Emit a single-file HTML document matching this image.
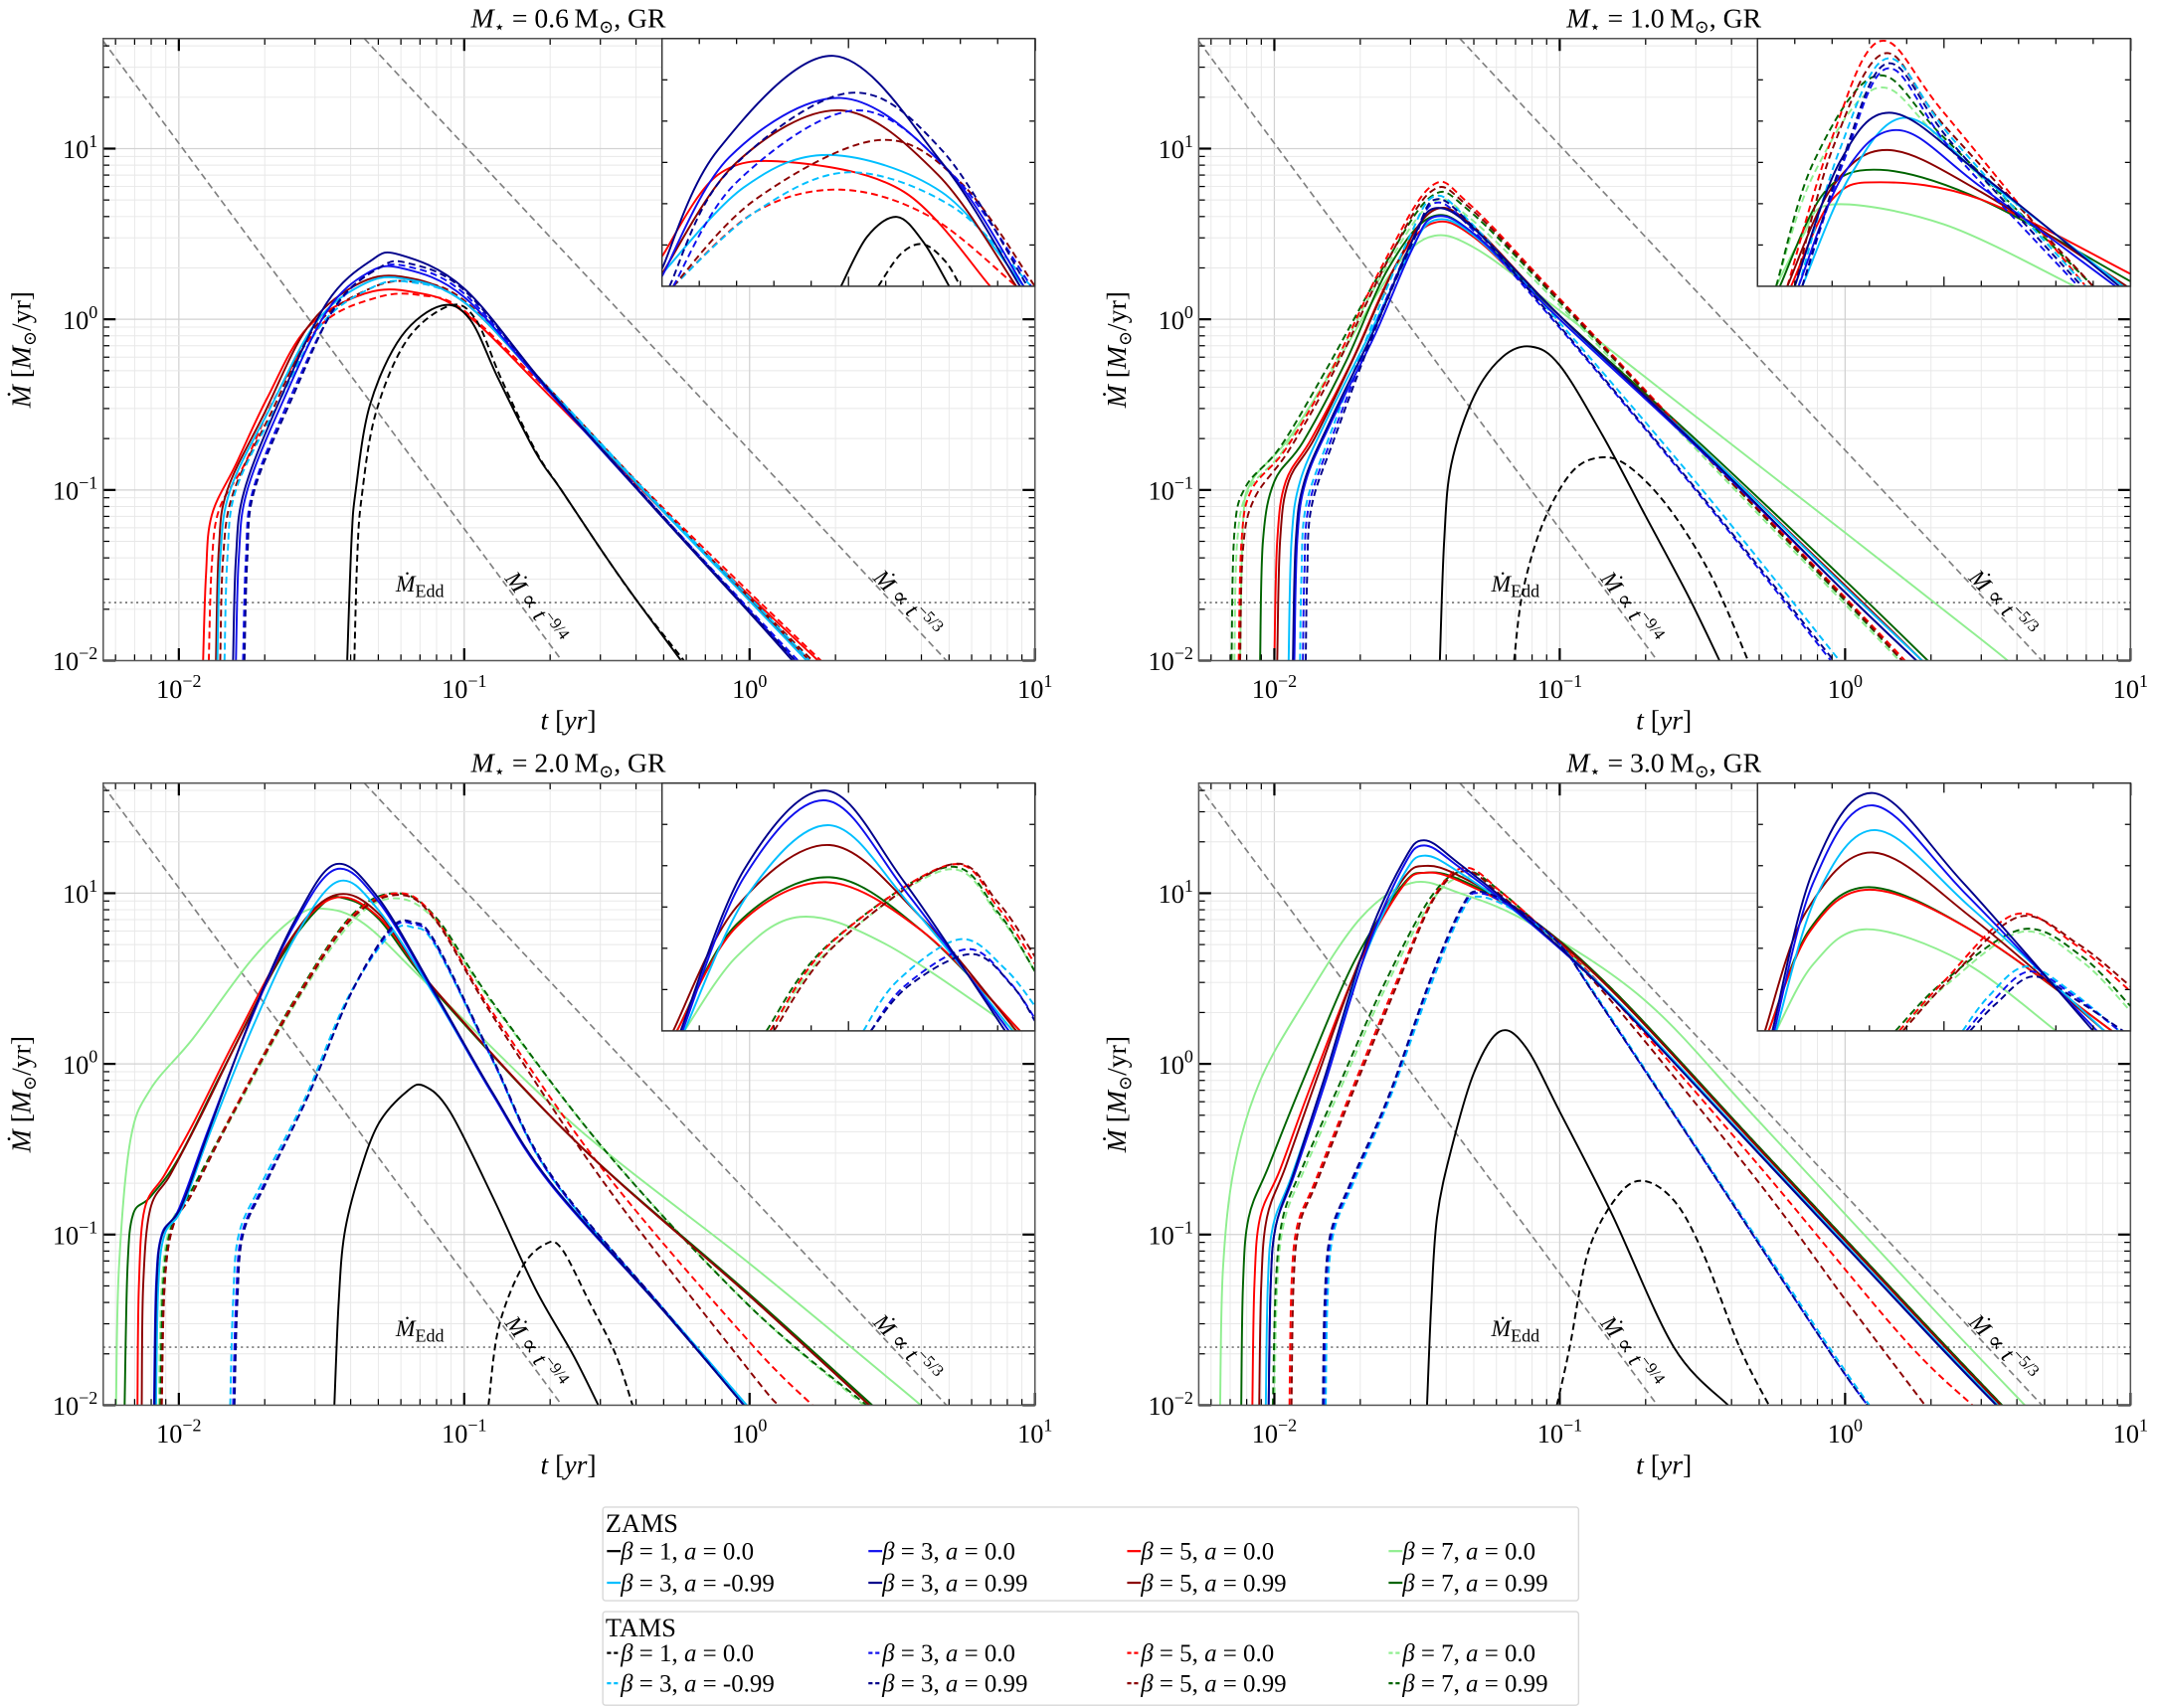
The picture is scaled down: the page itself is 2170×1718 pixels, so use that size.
<!DOCTYPE html>
<html><head><meta charset="utf-8"><title>Mdot panels</title>
<style>
html,body{margin:0;padding:0;background:#fff;}
svg{display:block;font-family:"Liberation Serif","DejaVu Serif",serif;}
</style></head>
<body>
<svg id="fig" width="2170" height="1718" viewBox="0 0 1568 1241" preserveAspectRatio="none" xmlns="http://www.w3.org/2000/svg">
<rect x="0" y="0" width="1568" height="1241" fill="#fff"/>
<g id="legend"></g>
</svg>
<script>
// ---------- axis limits (log10) ----------
const X0=-2.265, X1=1.0, Y0=-2, Y1=1.645;
const xTickExps=[-2,-1,0,1];
const yTickExps=[-2,-1,0,1];
const titleMasses=["0.6","1.0","2.0","3.0"];
const eddLog=-1.66;
const ref94=[[-2.265,1.63],[-0.658,-2]];
const ref53=[[-1.35,1.645],[0.69,-2]];

// ---------- Panel 1 (0.6 Msun) [log t, log Mdot] ----------
const p1_blackZ=[[-1.41,-2],[-1.395,-1.3],[-1.38,-1.0],[-1.33,-0.5],[-1.22,-0.1],[-1.08,0.08],[-0.98,0.0],[-0.88,-0.35],[-0.75,-0.78],[-0.66,-1.0],[-0.5,-1.4],[-0.39,-1.66],[-0.24,-2]];
const p1_blackT=[[-1.385,-2],[-1.375,-1.4],[-1.36,-1.05],[-1.31,-0.55],[-1.2,-0.12],[-1.05,0.08],[-0.96,0.0],[-0.87,-0.35],[-0.75,-0.77],[-0.66,-1.0],[-0.5,-1.4],[-0.39,-1.66],[-0.23,-2]];
const p1_redZ=[[-1.915,-2],[-1.905,-1.5],[-1.885,-1.15],[-1.8,-0.85],[-1.69,-0.46],[-1.55,-0.05],[-1.35,0.15],[-1.18,0.16],[-1.0,0.04],[-0.7,-0.45],[-0.3,-1.13],[0.0,-1.62],[0.24,-2]];
const p1_redT=[[-1.895,-2],[-1.885,-1.45],[-1.86,-1.12],[-1.77,-0.85],[-1.66,-0.45],[-1.5,-0.03],[-1.3,0.13],[-1.15,0.14],[-1.0,0.05],[-0.7,-0.43],[-0.3,-1.11],[0.0,-1.6],[0.25,-2]];
const p1_darkredZ=[[-1.87,-2],[-1.86,-1.35],[-1.83,-1.0],[-1.7,-0.55],[-1.55,-0.05],[-1.38,0.2],[-1.22,0.25],[-1.0,0.1],[-0.7,-0.42],[-0.3,-1.13],[0.0,-1.64],[0.21,-2]];
const p1_darkredT=[[-1.855,-2],[-1.845,-1.4],[-1.81,-1.02],[-1.68,-0.56],[-1.52,-0.04],[-1.33,0.18],[-1.18,0.22],[-1.0,0.11],[-0.7,-0.41],[-0.3,-1.12],[0.0,-1.63],[0.22,-2]];
const p1_cyanZ=[[-1.865,-2],[-1.855,-1.4],[-1.82,-1.0],[-1.68,-0.52],[-1.52,-0.02],[-1.36,0.2],[-1.22,0.24],[-1.0,0.1],[-0.7,-0.42],[-0.3,-1.13],[0.0,-1.65],[0.2,-2]];
const p1_cyanT=[[-1.84,-2],[-1.83,-1.4],[-1.8,-1.0],[-1.66,-0.52],[-1.5,-0.03],[-1.33,0.18],[-1.2,0.22],[-1.0,0.1],[-0.7,-0.41],[-0.3,-1.12],[0.0,-1.63],[0.21,-2]];
const p1_blueZ=[[-1.80,-2],[-1.79,-1.4],[-1.76,-1.0],[-1.63,-0.46],[-1.48,0.05],[-1.34,0.27],[-1.22,0.3],[-1.0,0.13],[-0.7,-0.43],[-0.3,-1.17],[0.0,-1.71],[0.16,-2]];
const p1_blueT=[[-1.775,-2],[-1.765,-1.4],[-1.74,-1.0],[-1.61,-0.46],[-1.46,0.05],[-1.32,0.28],[-1.2,0.31],[-1.0,0.15],[-0.7,-0.42],[-0.3,-1.16],[0.0,-1.7],[0.17,-2]];
const p1_navyZ=[[-1.81,-2],[-1.8,-1.4],[-1.77,-1.0],[-1.64,-0.45],[-1.48,0.1],[-1.33,0.34],[-1.23,0.38],[-1.0,0.18],[-0.7,-0.42],[-0.3,-1.17],[0.0,-1.72],[0.15,-2]];
const p1_navyT=[[-1.77,-2],[-1.76,-1.4],[-1.735,-1.0],[-1.6,-0.45],[-1.45,0.08],[-1.3,0.3],[-1.2,0.33],[-1.0,0.17],[-0.7,-0.42],[-0.3,-1.16],[0.0,-1.71],[0.16,-2]];

// ---------- Panel 2 (1.0 Msun) ----------
const p2_blackZ=[[-1.42,-2],[-1.405,-1.3],[-1.38,-0.85],[-1.3,-0.45],[-1.2,-0.22],[-1.1,-0.16],[-1.0,-0.27],[-0.85,-0.68],[-0.7,-1.15],[-0.55,-1.62],[-0.44,-2]];
const p2_blackT=[[-1.16,-2],[-1.13,-1.6],[-1.06,-1.2],[-0.96,-0.9],[-0.86,-0.81],[-0.76,-0.86],[-0.62,-1.1],[-0.47,-1.5],[-0.34,-2]];
const p2_dkgreenT=[[-2.15,-2],[-2.14,-1.25],[-2.1,-0.98],[-1.98,-0.75],[-1.82,-0.3],[-1.62,0.3],[-1.45,0.72],[-1.32,0.64],[-1.0,0.1],[-0.5,-0.78],[0.0,-1.65],[0.2,-2]];
const p2_lgreenT=[[-2.14,-2],[-2.13,-1.3],[-2.09,-1.0],[-1.97,-0.77],[-1.81,-0.32],[-1.62,0.27],[-1.45,0.68],[-1.32,0.6],[-1.0,0.08],[-0.5,-0.8],[0.0,-1.67],[0.19,-2]];
const p2_redT=[[-2.125,-2],[-2.115,-1.3],[-2.08,-1.0],[-1.96,-0.76],[-1.8,-0.3],[-1.62,0.32],[-1.45,0.78],[-1.32,0.68],[-1.0,0.12],[-0.5,-0.77],[0.0,-1.63],[0.21,-2]];
const p2_darkredT=[[-2.12,-2],[-2.11,-1.35],[-2.07,-1.05],[-1.95,-0.77],[-1.79,-0.3],[-1.61,0.32],[-1.45,0.75],[-1.32,0.66],[-1.0,0.11],[-0.5,-0.78],[0.0,-1.64],[0.2,-2]];
const p2_blueT=[[-1.90,-2],[-1.895,-1.5],[-1.88,-1.1],[-1.8,-0.7],[-1.65,-0.05],[-1.52,0.45],[-1.44,0.68],[-1.32,0.55],[-1.0,-0.05],[-0.5,-1.05],[-0.05,-2]];
const p2_navyT=[[-1.89,-2],[-1.885,-1.5],[-1.87,-1.1],[-1.79,-0.7],[-1.64,-0.03],[-1.51,0.47],[-1.44,0.7],[-1.32,0.57],[-1.0,-0.04],[-0.5,-1.04],[-0.04,-2]];
const p2_cyanT=[[-1.91,-2],[-1.905,-1.5],[-1.89,-1.1],[-1.81,-0.7],[-1.66,-0.04],[-1.53,0.47],[-1.44,0.72],[-1.32,0.58],[-1.0,-0.02],[-0.5,-1.0],[-0.02,-2]];
const p2_lgreenZ=[[-2.12,-2],[-2.11,-1.2],[-2.08,-0.95],[-1.95,-0.7],[-1.78,-0.25],[-1.6,0.25],[-1.46,0.48],[-1.3,0.42],[-1.0,0.05],[-0.5,-0.6],[0.0,-1.25],[0.45,-1.84],[0.57,-2]];
const p2_dkgreenZ=[[-2.05,-2],[-2.04,-1.3],[-2.0,-0.95],[-1.9,-0.72],[-1.75,-0.25],[-1.6,0.3],[-1.45,0.6],[-1.3,0.5],[-1.0,0.02],[-0.5,-0.74],[0.0,-1.53],[0.29,-2]];
const p2_redZ=[[-2.0,-2],[-1.99,-1.3],[-1.96,-0.95],[-1.87,-0.7],[-1.73,-0.25],[-1.58,0.3],[-1.45,0.56],[-1.3,0.48],[-1.0,0.0],[-0.5,-0.76],[0.0,-1.56],[0.27,-2]];
const p2_darkredZ=[[-1.99,-2],[-1.98,-1.3],[-1.95,-0.95],[-1.86,-0.7],[-1.72,-0.22],[-1.57,0.33],[-1.44,0.64],[-1.3,0.54],[-1.0,0.02],[-0.5,-0.76],[0.0,-1.56],[0.27,-2]];
const p2_blueZ=[[-1.93,-2],[-1.92,-1.3],[-1.89,-0.95],[-1.8,-0.6],[-1.65,-0.1],[-1.52,0.4],[-1.44,0.6],[-1.3,0.5],[-1.0,0.0],[-0.5,-0.78],[0.0,-1.6],[0.25,-2]];
const p2_navyZ=[[-1.935,-2],[-1.925,-1.3],[-1.895,-0.95],[-1.8,-0.58],[-1.65,-0.06],[-1.52,0.45],[-1.44,0.65],[-1.3,0.53],[-1.0,0.02],[-0.5,-0.77],[0.0,-1.6],[0.25,-2]];
const p2_cyanZ=[[-1.95,-2],[-1.94,-1.3],[-1.91,-0.95],[-1.82,-0.6],[-1.67,-0.1],[-1.53,0.38],[-1.44,0.58],[-1.3,0.49],[-1.0,0.0],[-0.5,-0.76],[0.0,-1.57],[0.27,-2]];

// ---------- Panel 3 (2.0 Msun) ----------
const p3_blackZ=[[-1.455,-2],[-1.44,-1.4],[-1.42,-1.0],[-1.37,-0.66],[-1.3,-0.35],[-1.2,-0.16],[-1.14,-0.13],[-1.05,-0.28],[-0.9,-0.78],[-0.75,-1.32],[-0.62,-1.7],[-0.53,-2]];
const p3_blackT=[[-0.915,-2],[-0.88,-1.55],[-0.8,-1.2],[-0.72,-1.06],[-0.66,-1.08],[-0.56,-1.4],[-0.47,-1.7],[-0.41,-2]];
const p3_lgreenZ=[[-2.22,-2],[-2.21,-1.2],[-2.17,-0.45],[-2.1,-0.15],[-1.95,0.15],[-1.75,0.6],[-1.6,0.85],[-1.5,0.91],[-1.35,0.82],[-1.1,0.42],[-0.6,-0.38],[0.0,-1.17],[0.5,-1.86],[0.6,-2]];
const p3_dkgreenZ=[[-2.19,-2],[-2.18,-1.2],[-2.16,-0.88],[-2.1,-0.78],[-2.0,-0.55],[-1.85,-0.05],[-1.65,0.6],[-1.5,0.93],[-1.42,0.97],[-1.3,0.85],[-1.1,0.42],[-0.6,-0.47],[0.0,-1.35],[0.43,-2]];
const p3_redZ=[[-2.145,-2],[-2.14,-1.3],[-2.12,-0.85],[-2.05,-0.65],[-1.95,-0.35],[-1.8,0.15],[-1.62,0.7],[-1.46,0.97],[-1.3,0.86],[-1.1,0.43],[-0.6,-0.47],[0.0,-1.36],[0.42,-2]];
const p3_darkredZ=[[-2.13,-2],[-2.125,-1.3],[-2.1,-0.85],[-2.03,-0.65],[-1.93,-0.33],[-1.78,0.18],[-1.6,0.75],[-1.45,0.99],[-1.3,0.88],[-1.1,0.43],[-0.6,-0.47],[0.0,-1.36],[0.42,-2]];
const p3_blueZ=[[-2.087,-2],[-2.08,-1.3],[-2.06,-1.0],[-2.0,-0.85],[-1.9,-0.4],[-1.75,0.25],[-1.6,0.8],[-1.45,1.14],[-1.3,0.95],[-1.1,0.4],[-0.9,-0.18],[-0.7,-0.7],[-0.3,-1.45],[-0.02,-2]];
const p3_navyZ=[[-2.085,-2],[-2.078,-1.3],[-2.058,-1.0],[-1.99,-0.83],[-1.89,-0.37],[-1.74,0.3],[-1.59,0.85],[-1.45,1.17],[-1.3,0.97],[-1.1,0.41],[-0.9,-0.17],[-0.7,-0.69],[-0.3,-1.45],[-0.02,-2]];
const p3_cyanZ=[[-2.08,-2],[-2.072,-1.3],[-2.05,-1.0],[-1.99,-0.85],[-1.89,-0.4],[-1.74,0.22],[-1.59,0.75],[-1.44,1.07],[-1.3,0.9],[-1.1,0.39],[-0.9,-0.18],[-0.7,-0.69],[-0.3,-1.44],[-0.01,-2]];
const p3_lgreenT=[[-2.07,-2],[-2.06,-1.3],[-2.03,-0.95],[-1.96,-0.75],[-1.8,-0.27],[-1.6,0.33],[-1.4,0.82],[-1.25,0.97],[-1.1,0.84],[-0.9,0.35],[-0.5,-0.52],[0.0,-1.42],[0.4,-2]];
const p3_dkgreenT=[[-2.065,-2],[-2.055,-1.3],[-2.025,-0.95],[-1.955,-0.74],[-1.8,-0.25],[-1.6,0.36],[-1.4,0.86],[-1.24,1.0],[-1.1,0.86],[-0.9,0.36],[-0.5,-0.52],[0.0,-1.42],[0.41,-2]];
const p3_redT=[[-2.06,-2],[-2.05,-1.3],[-2.02,-0.95],[-1.95,-0.75],[-1.8,-0.25],[-1.6,0.35],[-1.4,0.85],[-1.23,1.0],[-1.1,0.85],[-0.9,0.3],[-0.5,-0.65],[0.0,-1.63],[0.22,-2]];
const p3_darkredT=[[-2.06,-2],[-2.05,-1.3],[-2.02,-0.95],[-1.95,-0.75],[-1.8,-0.26],[-1.6,0.34],[-1.4,0.84],[-1.23,0.99],[-1.1,0.84],[-0.9,0.28],[-0.5,-0.72],[0.0,-1.8],[0.1,-2]];
const p3_blueT=[[-1.81,-2],[-1.80,-1.4],[-1.78,-1.0],[-1.7,-0.7],[-1.55,-0.2],[-1.4,0.4],[-1.26,0.78],[-1.18,0.82],[-1.1,0.7],[-0.9,0.02],[-0.7,-0.65],[-0.3,-1.44],[-0.02,-2]];
const p3_navyT=[[-1.805,-2],[-1.795,-1.4],[-1.775,-1.0],[-1.695,-0.7],[-1.545,-0.18],[-1.395,0.42],[-1.26,0.79],[-1.18,0.83],[-1.1,0.71],[-0.9,0.03],[-0.7,-0.64],[-0.3,-1.44],[-0.02,-2]];
const p3_cyanT=[[-1.82,-2],[-1.81,-1.4],[-1.79,-1.0],[-1.71,-0.7],[-1.56,-0.21],[-1.41,0.38],[-1.26,0.76],[-1.18,0.8],[-1.1,0.69],[-0.9,0.02],[-0.7,-0.65],[-0.3,-1.44],[-0.01,-2]];

// ---------- Panel 4 (3.0 Msun) ----------
const p4_blackZ=[[-1.465,-2],[-1.45,-1.4],[-1.43,-0.9],[-1.38,-0.5],[-1.3,-0.05],[-1.21,0.19],[-1.12,0.1],[-1.0,-0.28],[-0.82,-0.87],[-0.6,-1.66],[-0.41,-2]];
const p4_blackT=[[-1.01,-2],[-0.965,-1.66],[-0.9,-1.1],[-0.8,-0.78],[-0.71,-0.685],[-0.6,-0.8],[-0.5,-1.1],[-0.37,-1.66],[-0.267,-2]];
const p4_lgreenZ=[[-2.19,-2],[-2.18,-1.2],[-2.14,-0.6],[-2.05,-0.1],[-1.9,0.35],[-1.7,0.85],[-1.52,1.06],[-1.35,1.0],[-1.1,0.82],[-0.7,0.37],[-0.3,-0.34],[0.3,-1.42],[0.63,-2]];
const p4_dkgreenZ=[[-2.116,-2],[-2.11,-1.3],[-2.09,-0.9],[-2.02,-0.6],[-1.9,-0.1],[-1.72,0.6],[-1.55,1.05],[-1.47,1.12],[-1.35,1.08],[-1.1,0.85],[-0.8,0.41],[-0.3,-0.49],[0.3,-1.56],[0.55,-2]];
const p4_redZ=[[-2.077,-2],[-2.07,-1.3],[-2.05,-0.9],[-1.98,-0.62],[-1.87,-0.12],[-1.7,0.6],[-1.55,1.04],[-1.47,1.12],[-1.35,1.07],[-1.1,0.84],[-0.8,0.4],[-0.3,-0.5],[0.3,-1.57],[0.545,-2]];
const p4_darkredZ=[[-2.053,-2],[-2.046,-1.3],[-2.026,-0.9],[-1.96,-0.6],[-1.85,-0.08],[-1.69,0.65],[-1.55,1.08],[-1.47,1.16],[-1.35,1.1],[-1.1,0.85],[-0.8,0.4],[-0.3,-0.5],[0.3,-1.57],[0.545,-2]];
const p4_blueZ=[[-2.02,-2],[-2.013,-1.3],[-1.995,-0.95],[-1.93,-0.65],[-1.82,-0.1],[-1.68,0.65],[-1.55,1.15],[-1.475,1.28],[-1.35,1.15],[-1.1,0.82],[-0.8,0.36],[-0.3,-0.53],[0.3,-1.6],[0.53,-2]];
const p4_navyZ=[[-2.02,-2],[-2.013,-1.3],[-1.995,-0.95],[-1.93,-0.63],[-1.82,-0.06],[-1.68,0.7],[-1.55,1.18],[-1.475,1.31],[-1.35,1.17],[-1.1,0.83],[-0.8,0.36],[-0.3,-0.53],[0.3,-1.6],[0.53,-2]];
const p4_cyanZ=[[-2.03,-2],[-2.023,-1.3],[-2.005,-0.95],[-1.94,-0.66],[-1.83,-0.12],[-1.69,0.6],[-1.55,1.1],[-1.475,1.22],[-1.35,1.12],[-1.1,0.82],[-0.8,0.37],[-0.3,-0.52],[0.3,-1.59],[0.535,-2]];
const p4_dkgreenT=[[-2.005,-2],[-1.995,-1.3],[-1.97,-0.9],[-1.9,-0.6],[-1.78,-0.15],[-1.62,0.45],[-1.45,0.98],[-1.33,1.13],[-1.2,1.0],[-1.0,0.7],[-0.8,0.41],[-0.3,-0.49],[0.3,-1.56],[0.55,-2]];
const p4_lgreenT=[[-2.0,-2],[-1.99,-1.3],[-1.965,-0.92],[-1.895,-0.62],[-1.775,-0.17],[-1.615,0.43],[-1.45,0.95],[-1.33,1.1],[-1.2,0.98],[-1.0,0.69],[-0.8,0.4],[-0.3,-0.5],[0.3,-1.57],[0.54,-2]];
const p4_redT=[[-1.947,-2],[-1.94,-1.3],[-1.92,-0.95],[-1.86,-0.7],[-1.74,-0.2],[-1.58,0.45],[-1.44,0.98],[-1.33,1.15],[-1.2,1.0],[-1.0,0.7],[-0.8,0.36],[-0.3,-0.6],[0.2,-1.6],[0.446,-2]];
const p4_darkredT=[[-1.94,-2],[-1.933,-1.3],[-1.913,-0.95],[-1.853,-0.7],[-1.733,-0.2],[-1.573,0.45],[-1.44,0.97],[-1.33,1.13],[-1.2,0.98],[-1.0,0.68],[-0.8,0.33],[-0.3,-0.7],[0.0,-1.38],[0.28,-2]];
const p4_blueT=[[-1.826,-2],[-1.82,-1.4],[-1.8,-1.0],[-1.73,-0.7],[-1.6,-0.2],[-1.45,0.5],[-1.34,0.92],[-1.28,1.0],[-1.15,0.9],[-1.0,0.7],[-0.88,0.41],[-0.5,-0.55],[-0.065,-1.66],[0.078,-2]];
const p4_navyT=[[-1.83,-2],[-1.824,-1.4],[-1.804,-1.0],[-1.734,-0.7],[-1.6,-0.19],[-1.45,0.51],[-1.34,0.93],[-1.28,1.01],[-1.15,0.91],[-1.0,0.7],[-0.88,0.41],[-0.5,-0.55],[-0.065,-1.66],[0.078,-2]];
const p4_cyanT=[[-1.82,-2],[-1.814,-1.4],[-1.794,-1.0],[-1.724,-0.7],[-1.595,-0.2],[-1.445,0.49],[-1.34,0.9],[-1.28,0.98],[-1.15,0.89],[-1.0,0.7],[-0.88,0.42],[-0.5,-0.54],[-0.06,-1.65],[0.085,-2]];

// ---------- Insets (normalised time, normalised rate) ----------
const i1_navyZ=[[0,.07],[.15,.55],[.46,.93],[.75,.5],[.96,0]];
const i1_navyT=[[.02,0],[.17,.45],[.5,.78],[.75,.55],[.98,0]];
const i1_blueZ=[[0,.04],[.18,.52],[.48,.76],[.76,.48],[.97,0]];
const i1_blueT=[[.03,0],[.2,.42],[.52,.71],[.78,.45],[.99,0]];
const i1_darkredZ=[[0,.05],[.2,.5],[.48,.71],[.74,.45],[.95,0]];
const i1_darkredT=[[.03,0],[.25,.35],[.58,.59],[.8,.42],[1,0]];
const i1_redZ=[[0,.12],[.15,.45],[.35,.5],[.65,.38],[.88,0]];
const i1_redT=[[.03,0],[.25,.3],[.48,.39],[.72,.28],[.95,0]];
const i1_cyanZ=[[0,.05],[.22,.4],[.45,.53],[.75,.38],[.97,0]];
const i1_cyanT=[[.03,0],[.25,.3],[.5,.46],[.78,.32],[.99,0]];
const i1_blackZ=[[.48,0],[.55,.2],[.63,.28],[.7,.18],[.77,0]];
const i1_blackT=[[.58,0],[.64,.13],[.7,.17],[.76,.1],[.8,0]];

const i2_redT=[[.08,0],[.2,.6],[.33,.99],[.5,.7],[.88,0]];
const i2_darkredT=[[.1,0],[.2,.55],[.34,.94],[.5,.65],[.9,0]];
const i2_cyanT=[[.11,0],[.22,.55],[.35,.92],[.52,.6],[.88,0]];
const i2_blueT=[[.12,0],[.23,.5],[.35,.88],[.52,.55],[.86,0]];
const i2_navyT=[[.12,0],[.23,.52],[.35,.9],[.52,.58],[.87,0]];
const i2_dkgreenT=[[.05,0],[.15,.5],[.32,.85],[.5,.6],[.9,0]];
const i2_lgreenT=[[.05,0],[.15,.45],[.32,.8],[.5,.58],[.9,0]];
const i2_navyZ=[[.1,0],[.22,.5],[.36,.7],[.6,.45],[.97,0]];
const i2_blueZ=[[.11,0],[.23,.45],[.38,.63],[.6,.4],[.96,0]];
const i2_cyanZ=[[.12,0],[.25,.45],[.4,.68],[.62,.42],[.98,0]];
const i2_darkredZ=[[.08,0],[.2,.4],[.35,.55],[.6,.38],[.99,0]];
const i2_dkgreenZ=[[.06,0],[.18,.38],[.33,.47],[.6,.35],[1,.02]];
const i2_redZ=[[.09,0],[.2,.35],[.33,.42],[.6,.35],[1,.05]];
const i2_lgreenZ=[[.05,0],[.12,.2],[.2,.33],[.5,.25],[.85,0]];

const i3_navyZ=[[.05,0],[.22,.65],[.44,.97],[.65,.6],[.92,0]];
const i3_blueZ=[[.055,0],[.22,.62],[.44,.93],[.66,.55],[.93,0]];
const i3_cyanZ=[[.06,0],[.23,.55],[.45,.83],[.67,.5],[.94,0]];
const i3_darkredZ=[[.03,0],[.2,.5],[.45,.75],[.7,.45],[.95,0]];
const i3_redZ=[[.04,0],[.2,.42],[.44,.6],[.7,.4],[.96,0]];
const i3_dkgreenZ=[[.04,0],[.2,.43],[.45,.62],[.7,.4],[.96,0]];
const i3_lgreenZ=[[.06,0],[.2,.3],[.37,.46],[.6,.35],[.95,0]];
const i3_redT=[[.29,0],[.45,.35],[.77,.67],[.9,.5],[1,.27]];
const i3_darkredT=[[.3,0],[.46,.34],[.77,.67],[.9,.52],[1,.3]];
const i3_dkgreenT=[[.28,0],[.44,.34],[.76,.66],[.9,.48],[1,.24]];
const i3_lgreenT=[[.29,0],[.45,.33],[.76,.65],[.9,.47],[1,.24]];
const i3_cyanT=[[.54,0],[.63,.2],[.8,.37],[.92,.25],[1,.1]];
const i3_blueT=[[.56,0],[.65,.18],[.82,.33],[.93,.2],[1,.05]];
const i3_navyT=[[.56,0],[.66,.18],[.83,.31],[.94,.18],[1,.04]];

const i4_navyZ=[[.04,0],[.15,.65],[.31,.96],[.55,.6],[.9,0]];
const i4_blueZ=[[.045,0],[.15,.6],[.31,.91],[.56,.55],[.91,0]];
const i4_cyanZ=[[.05,0],[.16,.55],[.32,.81],[.57,.5],[.93,0]];
const i4_darkredZ=[[.02,0],[.13,.48],[.31,.72],[.58,.45],[.93,0]];
const i4_redZ=[[.03,0],[.14,.4],[.3,.57],[.58,.4],[.95,0]];
const i4_dkgreenZ=[[.03,0],[.14,.41],[.3,.58],[.58,.4],[.95,0]];
const i4_lgreenZ=[[.05,0],[.15,.27],[.29,.41],[.55,.28],[.8,0]];
const i4_redT=[[.38,0],[.5,.2],[.69,.47],[.85,.35],[1,.16]];
const i4_darkredT=[[.39,0],[.51,.2],[.7,.46],[.86,.35],[1,.18]];
const i4_dkgreenT=[[.37,0],[.5,.2],[.71,.41],[.87,.3],[1,.1]];
const i4_lgreenT=[[.38,0],[.51,.19],[.71,.4],[.87,.28],[1,.08]];
const i4_cyanT=[[.55,0],[.62,.14],[.72,.26],[.84,.16],[.97,0]];
const i4_blueT=[[.56,0],[.63,.12],[.73,.24],[.85,.14],[.97,0]];
const i4_navyT=[[.57,0],[.64,.11],[.74,.22],[.86,.12],[.98,0]];

// ---------- styles ----------
const COL={black:'#000000',blue:'#1010ee',navy:'#00008b',cyan:'#00bfff',red:'#ff0000',darkred:'#8b0000',lgreen:'#90ee90',dkgreen:'#006400'};
function S(d,c,t){return {d:d,c:c,t:t};}
const mainSeries=[
 [S(p1_redZ,'red','Z'),S(p1_redT,'red','T'),S(p1_darkredZ,'darkred','Z'),S(p1_darkredT,'darkred','T'),S(p1_cyanZ,'cyan','Z'),S(p1_cyanT,'cyan','T'),S(p1_blueZ,'blue','Z'),S(p1_blueT,'blue','T'),S(p1_navyZ,'navy','Z'),S(p1_navyT,'navy','T'),S(p1_blackZ,'black','Z'),S(p1_blackT,'black','T')],
 [S(p2_lgreenZ,'lgreen','Z'),S(p2_lgreenT,'lgreen','T'),S(p2_dkgreenZ,'dkgreen','Z'),S(p2_dkgreenT,'dkgreen','T'),S(p2_redZ,'red','Z'),S(p2_redT,'red','T'),S(p2_darkredZ,'darkred','Z'),S(p2_darkredT,'darkred','T'),S(p2_cyanZ,'cyan','Z'),S(p2_cyanT,'cyan','T'),S(p2_blueZ,'blue','Z'),S(p2_blueT,'blue','T'),S(p2_navyZ,'navy','Z'),S(p2_navyT,'navy','T'),S(p2_blackZ,'black','Z'),S(p2_blackT,'black','T')],
 [S(p3_lgreenZ,'lgreen','Z'),S(p3_lgreenT,'lgreen','T'),S(p3_dkgreenZ,'dkgreen','Z'),S(p3_dkgreenT,'dkgreen','T'),S(p3_redZ,'red','Z'),S(p3_redT,'red','T'),S(p3_darkredZ,'darkred','Z'),S(p3_darkredT,'darkred','T'),S(p3_cyanZ,'cyan','Z'),S(p3_cyanT,'cyan','T'),S(p3_blueZ,'blue','Z'),S(p3_blueT,'blue','T'),S(p3_navyZ,'navy','Z'),S(p3_navyT,'navy','T'),S(p3_blackZ,'black','Z'),S(p3_blackT,'black','T')],
 [S(p4_lgreenZ,'lgreen','Z'),S(p4_lgreenT,'lgreen','T'),S(p4_dkgreenZ,'dkgreen','Z'),S(p4_dkgreenT,'dkgreen','T'),S(p4_redZ,'red','Z'),S(p4_redT,'red','T'),S(p4_darkredZ,'darkred','Z'),S(p4_darkredT,'darkred','T'),S(p4_cyanZ,'cyan','Z'),S(p4_cyanT,'cyan','T'),S(p4_blueZ,'blue','Z'),S(p4_blueT,'blue','T'),S(p4_navyZ,'navy','Z'),S(p4_navyT,'navy','T'),S(p4_blackZ,'black','Z'),S(p4_blackT,'black','T')]
];
const insetSeries=[
 [S(i1_redZ,'red','Z'),S(i1_redT,'red','T'),S(i1_cyanZ,'cyan','Z'),S(i1_cyanT,'cyan','T'),S(i1_darkredZ,'darkred','Z'),S(i1_darkredT,'darkred','T'),S(i1_blueZ,'blue','Z'),S(i1_blueT,'blue','T'),S(i1_navyZ,'navy','Z'),S(i1_navyT,'navy','T'),S(i1_blackZ,'black','Z'),S(i1_blackT,'black','T')],
 [S(i2_lgreenZ,'lgreen','Z'),S(i2_lgreenT,'lgreen','T'),S(i2_dkgreenZ,'dkgreen','Z'),S(i2_dkgreenT,'dkgreen','T'),S(i2_redZ,'red','Z'),S(i2_redT,'red','T'),S(i2_darkredZ,'darkred','Z'),S(i2_darkredT,'darkred','T'),S(i2_cyanZ,'cyan','Z'),S(i2_cyanT,'cyan','T'),S(i2_blueZ,'blue','Z'),S(i2_blueT,'blue','T'),S(i2_navyZ,'navy','Z'),S(i2_navyT,'navy','T')],
 [S(i3_lgreenZ,'lgreen','Z'),S(i3_lgreenT,'lgreen','T'),S(i3_dkgreenZ,'dkgreen','Z'),S(i3_dkgreenT,'dkgreen','T'),S(i3_redZ,'red','Z'),S(i3_redT,'red','T'),S(i3_darkredZ,'darkred','Z'),S(i3_darkredT,'darkred','T'),S(i3_cyanZ,'cyan','Z'),S(i3_cyanT,'cyan','T'),S(i3_blueZ,'blue','Z'),S(i3_blueT,'blue','T'),S(i3_navyZ,'navy','Z'),S(i3_navyT,'navy','T')],
 [S(i4_lgreenZ,'lgreen','Z'),S(i4_lgreenT,'lgreen','T'),S(i4_dkgreenZ,'dkgreen','Z'),S(i4_dkgreenT,'dkgreen','T'),S(i4_redZ,'red','Z'),S(i4_redT,'red','T'),S(i4_darkredZ,'darkred','Z'),S(i4_darkredT,'darkred','T'),S(i4_cyanZ,'cyan','Z'),S(i4_cyanT,'cyan','T'),S(i4_blueZ,'blue','Z'),S(i4_blueT,'blue','T'),S(i4_navyZ,'navy','Z'),S(i4_navyT,'navy','T')]
];

// ---------- layout ----------
const NS='http://www.w3.org/2000/svg';
const svg=document.getElementById('fig');
const W=677, H=452, IW=271, IH=180;
const origins=[[75,28],[871,28],[75,569],[871,569]];
function el(tag,attrs,parent){const e=document.createElementNS(NS,tag);for(const k in attrs)e.setAttribute(k,attrs[k]);(parent||svg).appendChild(e);return e;}
function sx(o,v){return o[0]+(v-X0)/(X1-X0)*W;}
function sy(o,v){return o[1]+H-(v-Y0)/(Y1-Y0)*H;}
function ix(o,v){return o[0]+406+v*IW;}
function iy(o,v){return o[1]+IH-v*IH;}
function crPath(P){
  let d='M'+P[0][0].toFixed(2)+','+P[0][1].toFixed(2);
  for(let i=0;i<P.length-1;i++){
    const p0=P[i-1]||P[i],p1=P[i],p2=P[i+1],p3=P[i+2]||P[i+1];
    const c1x=p1[0]+(p2[0]-p0[0])/6,c1y=p1[1]+(p2[1]-p0[1])/6;
    const c2x=p2[0]-(p3[0]-p1[0])/6,c2y=p2[1]-(p3[1]-p1[1])/6;
    d+='C'+c1x.toFixed(2)+','+c1y.toFixed(2)+' '+c2x.toFixed(2)+','+c2y.toFixed(2)+' '+p2[0].toFixed(2)+','+p2[1].toFixed(2);
  }
  return d;
}
function tickLabel(g,x,y,exp,anchor){
  const t=el('text',{x:x,y:y,'font-size':19,'text-anchor':anchor,fill:'#000'},g);
  
  
  t.appendChild(document.createTextNode('10'));
  const s=el('tspan',{'font-size':13,dy:-8},t);
  s.textContent=(exp<0?'\u2212':'')+Math.abs(exp);
}

const defs=el('defs',{});
origins.forEach((o,pi)=>{
  const g=el('g',{});
  
  
  const cp=el('clipPath',{id:'clip'+pi},defs);
  el('rect',{x:o[0],y:o[1],width:W,height:H},cp);
  const cpi=el('clipPath',{id:'iclip'+pi},defs);
  el('rect',{x:o[0]+406,y:o[1],width:IW,height:IH},cpi);
  // grid
  const grid=el('g',{},g);
  
  
  for(let d=-3;d<=1;d++)for(let k=1;k<=9;k++){
    const v=d+Math.log10(k);
    if(v>X0&&v<X1){const x=sx(o,v);el('line',{x1:x,x2:x,y1:o[1],y2:o[1]+H,stroke:k==1?'#d2d2d2':'#e8e8e8','stroke-width':k==1?0.9:0.7},grid);}
    if(v>Y0&&v<Y1){const y=sy(o,v);el('line',{x1:o[0],x2:o[0]+W,y1:y,y2:y,stroke:k==1?'#d2d2d2':'#e8e8e8','stroke-width':k==1?0.9:0.7},grid);}
  }
  // reference lines
  const ref=el('g',{'clip-path':'url(#clip'+pi+')'},g);
  [[ref94,'ref-line-t-9-4'],[ref53,'ref-line-t-5-3']].forEach(r=>{
    const ln=el('line',{x1:sx(o,r[0][0][0]),y1:sy(o,r[0][0][1]),x2:sx(o,r[0][1][0]),y2:sy(o,r[0][1][1]),stroke:'#808080','stroke-width':1.2,'stroke-dasharray':'5,3'},ref);
    
    
  });
  const edd=el('line',{x1:o[0],x2:o[0]+W,y1:sy(o,eddLog),y2:sy(o,eddLog),stroke:'#777','stroke-width':1.2,'stroke-dasharray':'1.5,2.5'},ref);
  
  
  // curves
  const cg=el('g',{'clip-path':'url(#clip'+pi+')',fill:'none'},g);
  mainSeries[pi].forEach(s=>{
    const P=s.d.map(p=>[sx(o,p[0]),sy(o,p[1])]);
    const a={d:crPath(P),stroke:COL[s.c],'stroke-width':1.4,fill:'none'};
    if(s.t=='T')a['stroke-dasharray']='5,3';
    const pth=el('path',a,cg);
    
    
  });
  // annotations
  const ed=el('text',{x:sx(o,-1.24),y:sy(o,eddLog)-8,'font-size':17,'font-style':'italic'},g);
  
  
  ed.innerHTML='M\u0307<tspan font-style="normal" font-size="13" dy="4">Edd</tspan>';
  const l94=el('text',{x:0,y:0,'font-size':17,'font-style':'italic',transform:'translate('+sx(o,-0.86)+','+sy(o,-1.52)+') rotate(53.6)'},g);
  
  
  l94.innerHTML='M\u0307 \u221D t<tspan font-size="12" dy="-7" font-style="normal">\u22129/4</tspan>';
  const l53=el('text',{x:0,y:0,'font-size':17,'font-style':'italic',transform:'translate('+sx(o,0.43)+','+sy(o,-1.52)+') rotate(46.5)'},g);
  
  
  l53.innerHTML='M\u0307 \u221D t<tspan font-size="12" dy="-7" font-style="normal">\u22125/3</tspan>';
  // ticks
  const tk=el('g',{stroke:'#000'},g);
  
  
  for(let d=-3;d<=1;d++)for(let k=1;k<=9;k++){
    const v=d+Math.log10(k),L=k==1?9:4.5,sw=k==1?1.6:0.9;
    if(v>=X0&&v<=X1+1e-9){const x=sx(o,v);
      el('line',{x1:x,x2:x,y1:o[1]+H,y2:o[1]+H-L,'stroke-width':sw},tk);
      el('line',{x1:x,x2:x,y1:o[1],y2:o[1]+L,'stroke-width':sw},tk);}
    if(v>=Y0-1e-9&&v<=Y1){const y=sy(o,v);
      el('line',{x1:o[0],x2:o[0]+L,y1:y,y2:y,'stroke-width':sw},tk);
      el('line',{x1:o[0]+W,x2:o[0]+W-L,y1:y,y2:y,'stroke-width':sw},tk);}
  }
  const fr=el('rect',{x:o[0],y:o[1],width:W,height:H,fill:'none',stroke:'#555','stroke-width':1.1},g);
  
  
  xTickExps.forEach(e=>tickLabel(g,sx(o,e),o[1]+H+27,e,'middle'));
  yTickExps.forEach(e=>tickLabel(g,o[0]-4,sy(o,e)+7,e,'end'));
  // axis titles
  const xt=el('text',{x:o[0]+338,y:o[1]+H+50,'font-size':20,'text-anchor':'middle'},g);
  
  
  xt.innerHTML='<tspan font-style="italic">t</tspan> [<tspan font-style="italic">yr</tspan>]';
  const yt=el('text',{x:0,y:0,'font-size':20,'text-anchor':'middle',transform:'translate('+(o[0]-53)+','+(o[1]+226)+') rotate(-90)'},g);
  
  
  yt.innerHTML='<tspan font-style="italic">M\u0307</tspan> [<tspan font-style="italic">M</tspan><tspan font-size="13" dy="4">\u2299</tspan><tspan dy="-4">/yr]</tspan>';
  const tt=el('text',{x:o[0]+338,y:o[1]-8,'font-size':20,'text-anchor':'middle'},g);
  
  
  tt.innerHTML='<tspan font-style="italic">M</tspan><tspan font-size="13" dy="4">\u22C6</tspan><tspan dy="-4"> = '+titleMasses[pi]+'\u2009M</tspan><tspan font-size="13" dy="4">\u2299</tspan><tspan dy="-4">, GR</tspan>';
  // inset
  const ig=el('g',{},g);
  
  
  el('rect',{x:o[0]+406,y:o[1],width:IW,height:IH,fill:'#fff'},ig);
  const icg=el('g',{'clip-path':'url(#iclip'+pi+')',fill:'none'},ig);
  insetSeries[pi].forEach(s=>{
    const P=s.d.map(p=>[ix(o,p[0]),iy(o,p[1])]);
    const a={d:crPath(P),stroke:COL[s.c],'stroke-width':1.4,fill:'none'};
    if(s.t=='T')a['stroke-dasharray']='5,3';
    const pth=el('path',a,icg);
    
    
  });
  const itk=el('g',{stroke:'#000','stroke-width':0.9},ig);
  for(let i=1;i<10;i++){
    const x=o[0]+406+i*IW/10;
    el('line',{x1:x,x2:x,y1:o[1]+IH,y2:o[1]+IH-(i%5==0?7:4)},itk);
    el('line',{x1:x,x2:x,y1:o[1],y2:o[1]+(i%5==0?7:4)},itk);
  }
  for(let i=1;i<6;i++){
    const y=o[1]+i*IH/6;
    el('line',{x1:o[0]+406,x2:o[0]+410,y1:y,y2:y},itk);
    el('line',{x1:o[0]+406+IW,x2:o[0]+402+IW,y1:y,y2:y},itk);
  }
  el('rect',{x:o[0]+406,y:o[1],width:IW,height:IH,fill:'none',stroke:'#333','stroke-width':1.1},ig);
});

// ---------- legend ----------
const legendLabels=[['1','0.0'],['3','0.0'],['5','0.0'],['7','0.0'],['3','-0.99'],['3','0.99'],['5','0.99'],['7','0.99']];
const legendColors=['black','blue','red','lgreen','cyan','navy','darkred','dkgreen'];
const lg=document.getElementById('legend');
const legendCols=[441,631,819,1009];
[['ZAMS',1095,1113,1133,1156,'Z'],['TAMS',1171,1189,1207,1229,'T']].forEach(b=>{
  const box=el('rect',{x:438,y:b[1],width:709,height:68,fill:'#fff',stroke:'#d8d8d8','stroke-width':1,rx:2},lg);
  
  
  const h=el('text',{x:440,y:b[2],'font-size':19},lg);
  
  
  h.textContent=b[0];
  legendLabels.forEach((lab,i)=>{
    const cx=legendCols[i%4], cy=(i<4?b[3]:b[4]);
    const e=el('g',{},lg);
    
    
    const a={x1:cx,x2:cx+10,y1:cy-6,y2:cy-6,stroke:COL[legendColors[i]],'stroke-width':1.6};
    if(b[5]=='T')a['stroke-dasharray']='3,2';
    el('line',a,e);
    const t=el('text',{x:cx+10,y:cy,'font-size':18},e);
    t.innerHTML='<tspan font-style="italic">\u03B2</tspan> = '+lab[0]+', <tspan font-style="italic">a</tspan> = '+lab[1];
  });
});
</script>
</body></html>
